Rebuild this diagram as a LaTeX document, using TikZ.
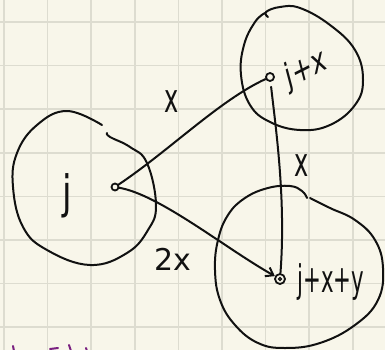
\documentclass[tikz,border=0pt]{standalone}
\usepackage{fontspec}
\setmainfont{DejaVu Sans}
\usetikzlibrary{arrows.meta}
\definecolor{paper}{HTML}{F8F6EA}
\definecolor{gridc}{HTML}{DDDCD0}
\definecolor{ink}{HTML}{111111}
\definecolor{purp}{HTML}{7A2080}
\begin{document}
\begin{tikzpicture}[x=1pt,y=-1pt,
  inkline/.style={line width=2pt, draw=ink, line cap=round, line join=round},
  dotnode/.style={circle, draw=ink, line width=1.8pt, inner sep=0pt, minimum size=7pt},
  lbl/.style={text=ink, inner sep=0pt},
  conn/.style={inkline}]
\fill[paper] (0,0) rectangle (385,350);
\useasboundingbox (0,0) rectangle (385,350);
\begin{scope}
\clip (0,0) rectangle (385,350);
\foreach \i in {0,...,8} \draw[gridc, line width=1.5pt] ({4+43.6*\i},0) -- ({4+43.6*\i},350);
\foreach \i in {0,...,7} \draw[gridc, line width=1.5pt] (0,{22+43.6*\i}) -- (385,{22+43.6*\i});
% region outlines
\draw[inkline] plot[smooth, tension=0.7] coordinates {(102,125) (67,111) (37,125) (17,153) (13,187) (23,227) (47,250) (90,265) (127,253) (148,230) (156,205) (147,163) (130,147) (110,137) (107,133)};
\draw[inkline] plot[smooth, tension=0.7] coordinates {(268,17) (266,12) (280,7) (300,8) (330,25) (355,50) (363,80) (355,105) (330,125) (300,130) (270,122) (250,105) (241,75) (244,45) (255,22) (265,13)};
\draw[inkline] plot[smooth, tension=0.7] coordinates {(307,198) (302,191) (290,186) (268,188) (245,198) (228,215) (218,240) (215,270) (220,300) (235,325) (258,343) (285,348) (320,343) (355,325) (378,300) (383,268) (375,240) (355,220) (330,208) (310,198)};
% purple fragments
\draw[purp, line width=2pt, line cap=round] (13,346) -- (14,351);
\draw[purp, line width=2pt, line cap=round] (50,349) -- (58,348);
\draw[purp, line width=2pt, line cap=round] (69,345) -- (71,351);
\draw[purp, line width=2pt, line cap=round] (86,348) -- (87,351);
\end{scope}
% dots
\node[dotnode, minimum size=7pt] (jd) at (115,187) {};
\node[dotnode, minimum size=8pt] (jxd) at (270,77) {};
\node[dotnode, minimum size=10pt] (jxyd) at (280,279) {};
\node[circle, draw=ink, line width=1.4pt, inner sep=0pt, minimum size=3pt] (jxyi) at (jxyd) {};
% labels
\node[lbl, font=\fontsize{46}{48}\selectfont, xscale=0.75] (tj) at (67,196) {j};
\node[lbl, font=\fontsize{34}{36}\selectfont, xscale=0.72, rotate=20] (tjx) at (306,70) {j+x};
\node[lbl, font=\fontsize{38}{40}\selectfont, xscale=0.56] (tjxy) at (331,282) {j+x+y};
\node[lbl, font=\fontsize{40}{42}\selectfont, xscale=0.6] (lx1) at (172,102) {x};
\node[lbl, font=\fontsize{40}{42}\selectfont, xscale=0.6] (lx2) at (302,166) {x};
\node[lbl, font=\fontsize{30}{32}\selectfont] (l2x) at (173,259) {2x};
% connectors
\draw[conn] (jd) .. controls (170,150) and (220,100) .. (jxd);
\draw[conn, shorten <=5pt] (jxd) .. controls (276,130) and (286,200) .. (jxyd);
\draw[conn, -{Straight Barb[length=7pt,width=10pt]}] (jd) .. controls (160,195) and (225,248) .. (jxyd);
\end{tikzpicture}
\end{document}
